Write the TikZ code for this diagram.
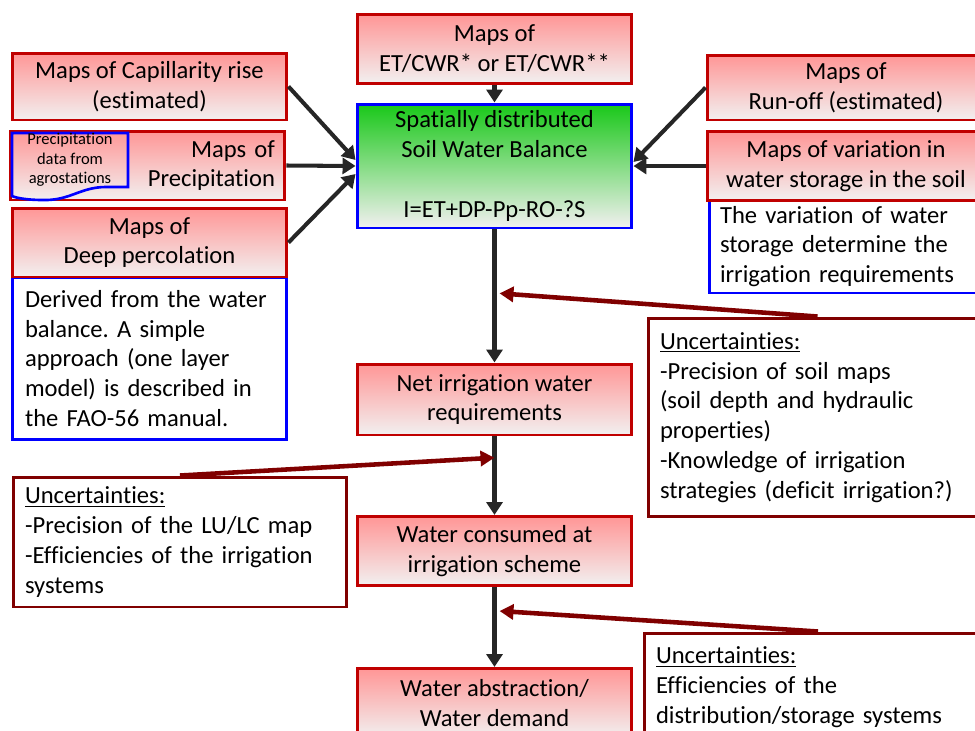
\documentclass[tikz,border=0pt]{standalone}
\usepackage{fontspec}
\setmainfont{Carlito}[Ligatures={NoCommon}]
\frenchspacing
\usetikzlibrary{arrows.meta,calc}

\definecolor{boxred}{RGB}{192,0,0}
\definecolor{fillred}{RGB}{255,150,150}
\definecolor{fillgray}{RGB}{242,240,240}
\definecolor{fillgreen}{RGB}{25,200,25}
\definecolor{uncred}{RGB}{128,0,0}
\definecolor{arrowgray}{RGB}{38,38,38}

\begin{document}
\begin{tikzpicture}
        [x=0.02cm, y=-0.02cm,
        font=\fontsize{14}{17}\selectfont,
        mapbox/.style = {draw=boxred, line width=1.7pt,
        top color=fillred, bottom color=fillgray,
        minimum width=5.5cm, minimum height=1.38cm,
        align=center, inner sep=1pt},
        note/.style = {draw=blue, line width=1.7pt, fill=white,
        align=left, inner xsep=0.26cm, inner ysep=2pt},
        uncbox/.style = {draw=uncred, line width=1.7pt, fill=white,
        align=left, inner xsep=0.24cm, inner ysep=2pt},
        flow/.style = {draw=arrowgray, line width=2.3pt,
        -{Triangle[length=0.26cm,width=0.32cm]}},
        hint/.style = {draw=uncred, line width=2.6pt,
        -{Triangle[length=0.28cm,width=0.3cm]}}]

        \useasboundingbox (0,0) rectangle (975,731);
        \clip (0,0) rectangle (975,731);

        % Notes under the map boxes
        \node[note, text width=4.98cm, minimum height=3.26cm] (deepnote) at (149.5,358.5)
            {Derived from the water\\balance. A simple\\approach (one layer\\model) is described in\\the FAO-56 manual.};
        \node[note, text width=5.2cm, inner xsep=0.22cm, minimum height=1.86cm] (varnote) at (850,246.5)
            {The variation of water\\storage determine the\\irrigation requirements};

        % Input maps
        \node[mapbox] (et) at (494.5,49) {Maps of\\ET/CWR* or ET/CWR**};
        \node[mapbox, minimum height=1.34cm] (cap) at (149.5,86.5) {Maps of Capillarity rise\\(estimated)};
        \node[mapbox, align=right, text width=5.1cm, inner xsep=0.2cm] (precip) at (147.5,165.5) {Maps of\\Precipitation};
        \node[mapbox] (deep) at (149.5,242.5) {Maps of\\Deep percolation};
        \node[mapbox, minimum width=5.56cm, minimum height=1.3cm] (runoff) at (846,87.5) {Maps of\\Run-off (estimated)};
        \node[mapbox, minimum width=5.56cm] (vari) at (846,166) {Maps of variation in\\water storage in the soil};

        % Precipitation data (document shape)
        \draw[blue, line width=1.5pt] (12,133) -- (128,133) -- (128,187) -- (106,187)
            .. controls (80,187) and (70,201) .. (42,200)
            .. controls (28,200) and (16,198) .. (12,196) -- cycle;
        \node[font=\fontsize{9.4}{11}\selectfont, align=center] (precdoc) at (70,160)
            {Precipitation\\data from\\agrostations};

        % Soil water balance
        \node[mapbox, draw=blue, top color=fillgreen, minimum height=2.48cm] (swb) at (494.5,166)
            {Spatially distributed\\Soil Water Balance\\[17pt]I=ET+DP-Pp-RO-?S};

        % Results
        \node[mapbox, minimum height=1.42cm] (net) at (494.5,399.5) {Net irrigation water\\requirements};
        \node[mapbox] (cons) at (494.5,551) {Water consumed at\\irrigation scheme};
        \node[mapbox] (abst) at (494.5,703) {Water abstraction/\\Water demand};

        % Uncertainties
        \node[uncbox, text width=6.3cm, minimum height=3.98cm] (unc1) at (817.5,417.5)
            {\underline{Uncertainties:}\\-Precision of soil maps\\(soil depth and hydraulic\\properties)\\-Knowledge of irrigation\\strategies (deficit irrigation?)};
        \node[uncbox, text width=6.2cm, minimum height=2.6cm] (unc2) at (180,542)
            {\underline{Uncertainties:}\\-Precision of the LU/LC map\\-Efficiencies of the irrigation\\systems};
        \node[uncbox, text width=6.48cm, minimum height=2.16cm] (unc3) at (818,687)
            {\underline{Uncertainties:}\\Efficiencies of the\\distribution/storage systems};

        % Flow arrows
        \draw[flow] (et) -- (swb);
        \draw[flow] (cap.east) -- ($(swb.west)+(0,-6)$);
        \draw[flow] (precip.east) -- (swb.west);
        \draw[flow] (deep.east) -- ($(swb.west)+(0,8)$);
        \draw[flow] (runoff.west) -- ($(swb.east)+(0,-4)$);
        \draw[flow] (vari.west) -- (swb.east);
        \draw[flow] (swb) -- (net);
        \draw[flow] (net) -- (cons);
        \draw[flow] (cons) -- (abst);

        % Uncertainty pointers
        \coordinate (h1) at ($(swb.south)!0.48!(net.north)+(5,0)$);
        \coordinate (h2) at ($(net.south)!0.27!(cons.north)$);
        \coordinate (h3) at ($(cons.south)!0.3!(abst.north)+(5,0)$);
        \draw[hint] (unc1.north) -- (h1);
        \draw[hint] (unc2.north) -- (h2);
        \draw[hint] (unc3.north) -- (h3);
    \end{tikzpicture}
\end{document}
